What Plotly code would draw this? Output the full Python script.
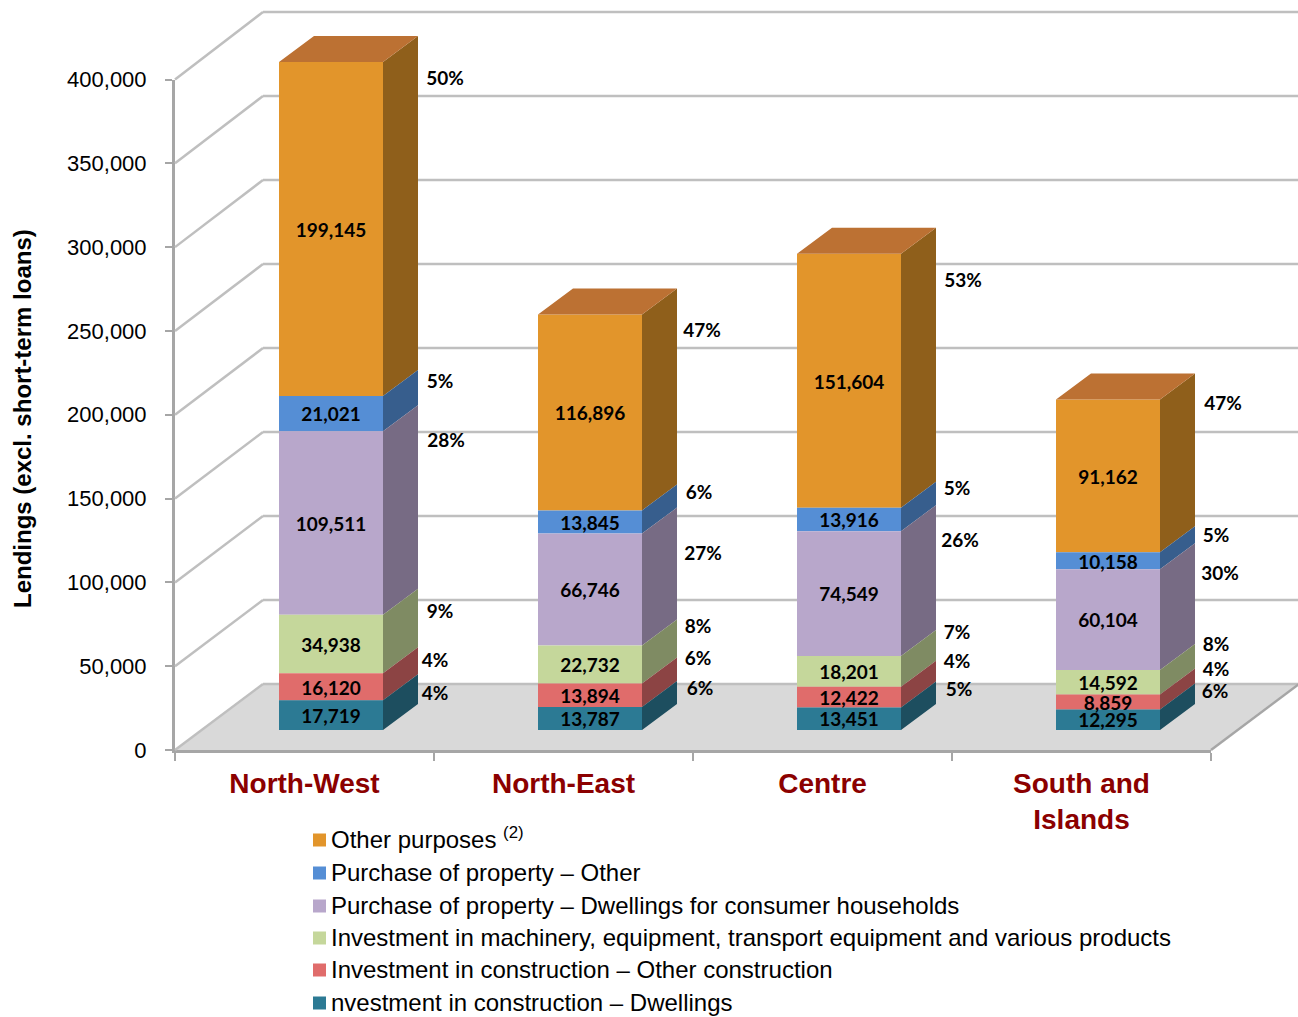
import plotly.graph_objects as go

# ---- data ----
categories = ["North-West", "North-East", "Centre", "South and<br>Islands"]
other_purposes = [199145, 116896, 151604, 91162]
property_other = [21021, 13845, 13916, 10158]
property_dwellings = [109511, 66746, 74549, 60104]
machinery = [34938, 22732, 18201, 14592]
construction_other = [16120, 13894, 12422, 8859]
construction_dwellings = [17719, 13787, 13451, 12295]

pct_other_purposes = ["50%", "47%", "53%", "47%"]
pct_property_other = ["5%", "6%", "5%", "5%"]
pct_property_dwellings = ["28%", "27%", "26%", "30%"]
pct_machinery = ["9%", "8%", "7%", "8%"]
pct_construction_other = ["4%", "6%", "4%", "4%"]
pct_construction_dwellings = ["4%", "6%", "5%", "6%"]

y_ticks = [0, 50000, 100000, 150000, 200000, 250000, 300000, 350000, 400000]

# ---- layout constants (pixels) ----
W, H = 1298, 1017
X0, Y0 = 175, 750         # origin of the front plane
UNIT_X = 259.0            # px per category
UNIT_Y = 670.5 / 400000   # px per value, front plane
BACK_SCALE = 672 / 670.5  # the back wall is drawn slightly taller (perspective)
WALL_DX, WALL_DY = 88, 66
BAR_W = 104
F_DX, F_DY = 26.5, 20     # bar front relative to the chart front
B_DX, B_DY = 35, 26       # depth of a bar
VALUE_LABEL_SHIFT = 3     # px down
SHARE_LABEL_SHIFT = 2     # px down

def dx(px):
    return px / UNIT_X

def dy(px):
    return px / UNIT_Y

def px_x(px):
    return (px - X0) / UNIT_X

def px_y(py):
    return (Y0 - py) / UNIT_Y

series = [
    dict(name="Other purposes <sup>(2)</sup>", v=other_purposes, p=pct_other_purposes, c="#E2952B", s="#8F5F1B",
         pos=[(445, 78), (702, 330), (963, 280), (1223, 403)], row=840, text_row=838),
    dict(name="Purchase of property – Other", v=property_other, p=pct_property_other, c="#558ED5", s="#375E8D",
         pos=[(440, 381), (699, 492), (957, 488), (1216, 535)], row=873, text_row=872),
    dict(name="Purchase of property – Dwellings for consumer households", v=property_dwellings, p=pct_property_dwellings, c="#B8A7CB", s="#776B84",
         pos=[(446, 440), (703, 553), (960, 540), (1220, 573)], row=906, text_row=905),
    dict(name="Investment in machinery, equipment, transport equipment and various products", v=machinery, p=pct_machinery, c="#C5D79B", s="#7F8B63",
         pos=[(440, 611), (698, 626), (957, 632), (1216, 644)], row=938, text_row=937),
    dict(name="Investment in construction – Other construction", v=construction_other, p=pct_construction_other, c="#E06C6B", s="#8C4444",
         pos=[(435, 660), (698, 658), (957, 661), (1216, 669)], row=970, text_row=969),
    dict(name="nvestment in construction – Dwellings", v=construction_dwellings, p=pct_construction_dwellings, c="#2C7A94", s="#1D4E5F",
         pos=[(435, 693), (700, 688), (959, 689), (1215, 691)], row=1003, text_row=1002),
]

LABEL_FONT = dict(family="Lato", size=19, color="#000000")
fig = go.Figure()

# dummy trace that keeps the visible axes alive
fig.add_trace(go.Scatter(x=[0], y=[0], mode="markers", marker=dict(opacity=0), showlegend=False,
                         hoverinfo="skip", xaxis="x", yaxis="y"))

n = len(categories)
bases = [0] * n
stack = {}
for s in reversed(series):
    stack[s["name"]] = list(bases)
    bases = [b + v for b, v in zip(bases, s["v"])]
totals = bases

fx = dx(F_DX)
fy = dy(F_DY)
bw = dx(BAR_W)
bx = dx(B_DX)
by = dy(B_DY)
centers = [i + 0.5 + fx for i in range(n)]

# front faces
for s in series:
    base = stack[s["name"]]
    fig.add_trace(go.Bar(x=centers, y=s["v"], base=[b + fy for b in base], width=bw,
                         name=s["name"], marker=dict(color=s["c"], line=dict(width=0)),
                         showlegend=False, xaxis="x2", yaxis="y2", hoverinfo="skip"))

# side faces
for s in series:
    base = stack[s["name"]]
    xs, ys = [], []
    for c, b, v in zip(centers, base, s["v"]):
        r = c + bw / 2
        lo = b + fy
        hi = lo + v
        xs += [r, r + bx, r + bx, r, r, None]
        ys += [lo, lo + by, hi + by, hi, lo, None]
    fig.add_trace(go.Scatter(x=xs, y=ys, fill="toself", fillcolor=s["s"], mode="lines",
                             line=dict(width=0, color=s["s"]), showlegend=False, hoverinfo="skip",
                             xaxis="x2", yaxis="y2"))

# top faces
xs, ys = [], []
for c, t in zip(centers, totals):
    l, r = c - bw / 2, c + bw / 2
    t = t + fy
    xs += [l, r, r + bx, l + bx, l, None]
    ys += [t, t, t + by, t + by, t, None]
fig.add_trace(go.Scatter(x=xs, y=ys, fill="toself", fillcolor="#BC7133", mode="lines",
                         line=dict(width=0, color="#BC7133"), showlegend=False, hoverinfo="skip",
                         xaxis="x2", yaxis="y2"))

# value labels
for s in series:
    base = stack[s["name"]]
    fig.add_trace(go.Scatter(x=centers, y=[b + fy + v / 2 - dy(VALUE_LABEL_SHIFT) for b, v in zip(base, s["v"])],
                             text=[f"{v:,}" for v in s["v"]], mode="text", textposition="middle center",
                             textfont=dict(LABEL_FONT, weight="bold"), showlegend=False, hoverinfo="skip",
                             xaxis="x2", yaxis="y2"))

# share labels
for s in series:
    fig.add_trace(go.Scatter(x=[px_x(p[0]) for p in s["pos"]], y=[px_y(p[1] + SHARE_LABEL_SHIFT) for p in s["pos"]],
                             text=s["p"], mode="text", textposition="middle center",
                             textfont=dict(LABEL_FONT, weight="bold"), showlegend=False, hoverinfo="skip",
                             xaxis="x2", yaxis="y2"))

# legend swatches and entries
annotations = [dict(text="<b>Lendings (excl. short-term loans)</b>", xref="paper", yref="paper",
                    x=22 / W, y=1 - 419 / H, xanchor="center", yanchor="middle", textangle=-90, showarrow=False,
                    font=dict(family="Liberation Sans", size=24, color="#000000"))]
for s in series:
    fig.add_trace(go.Scatter(x=[px_x(319.5)], y=[px_y(s["row"])], mode="markers",
                             marker=dict(symbol="square", size=13, color=s["c"], line=dict(width=0)),
                             showlegend=False, hoverinfo="skip", xaxis="x2", yaxis="y2"))
    annotations.append(dict(text=s["name"], xref="paper", yref="paper", x=329 / W, y=1 - s["text_row"] / H,
                            xanchor="left", yanchor="middle", showarrow=False, align="left",
                            font=dict(family="Liberation Sans", size=24, color="#000000")))

# walls and floor
GRID = "#BFBFBF"
wx, wy = dx(WALL_DX), dy(WALL_DY)
x_end = 4
shapes = [dict(type="path", xref="x2", yref="y2", layer="below", fillcolor="#D9D9D9", line=dict(width=0),
               path=f"M0,0 L{wx},{wy} L{x_end + wx},{wy} L{x_end},0 Z")]
for t in y_ticks:
    back = t * BACK_SCALE + wy
    shapes.append(dict(type="line", xref="x2", yref="y2", layer="below", x0=0, y0=t, x1=wx, y1=back,
                       line=dict(color=GRID, width=2.5)))
    shapes.append(dict(type="line", xref="x2", yref="y2", layer="below", x0=wx, y0=back, x1=x_end + wx, y1=back,
                       line=dict(color=GRID, width=2.5)))
shapes.append(dict(type="line", xref="x2", yref="y2", layer="below", x0=x_end, y0=0, x1=x_end + wx, y1=wy,
                   line=dict(color="#A6A6A6", width=2.5)))

fig.update_layout(
    width=W, height=H, margin=dict(l=0, r=0, t=0, b=0, autoexpand=False), autosize=False,
    paper_bgcolor="white", plot_bgcolor="rgba(0,0,0,0)", barmode="overlay", shapes=shapes,
    font=dict(family="Liberation Sans", color="#000000"), showlegend=False,
    xaxis=dict(domain=[X0 / W, (X0 + 4 * UNIT_X) / W], range=[0, 4], anchor="y",
               tickmode="array", tickvals=[i + 0.5 for i in range(n)], ticktext=categories,
               ticks="", showgrid=False, zeroline=False, showline=True, linecolor="#A6A6A6", linewidth=3,
               tickfont=dict(family="Liberation Sans", size=28, color="#8B0000", weight="bold"),
               ticklabelstandoff=6, tickangle=0,
               minor=dict(tickmode="array", tickvals=[0, 1, 2, 3, 4], ticks="outside", ticklen=8,
                          tickwidth=2, tickcolor="#A6A6A6", showgrid=False)),
    yaxis=dict(domain=[(H - Y0) / H, (H - Y0 + 400000 * UNIT_Y) / H], range=[0, 400000], anchor="x",
               tickmode="array", tickvals=y_ticks, tickformat=",d", ticks="outside", ticklen=7, tickwidth=2,
               tickcolor="#A6A6A6", showgrid=False, zeroline=False, showline=True, linecolor="#A6A6A6", linewidth=3,
               tickfont=dict(family="Liberation Sans", size=22, color="#000000"), ticklabelstandoff=14),
    xaxis2=dict(domain=[0, 1], range=[px_x(0), px_x(W)], visible=False, anchor="y2"),
    yaxis2=dict(domain=[0, 1], range=[px_y(H), px_y(0)], visible=False, anchor="x2"),
    annotations=annotations,
)

fig.write_html("out.html", config=dict(displayModeBar=False), post_script="document.body.style.margin='0';")
